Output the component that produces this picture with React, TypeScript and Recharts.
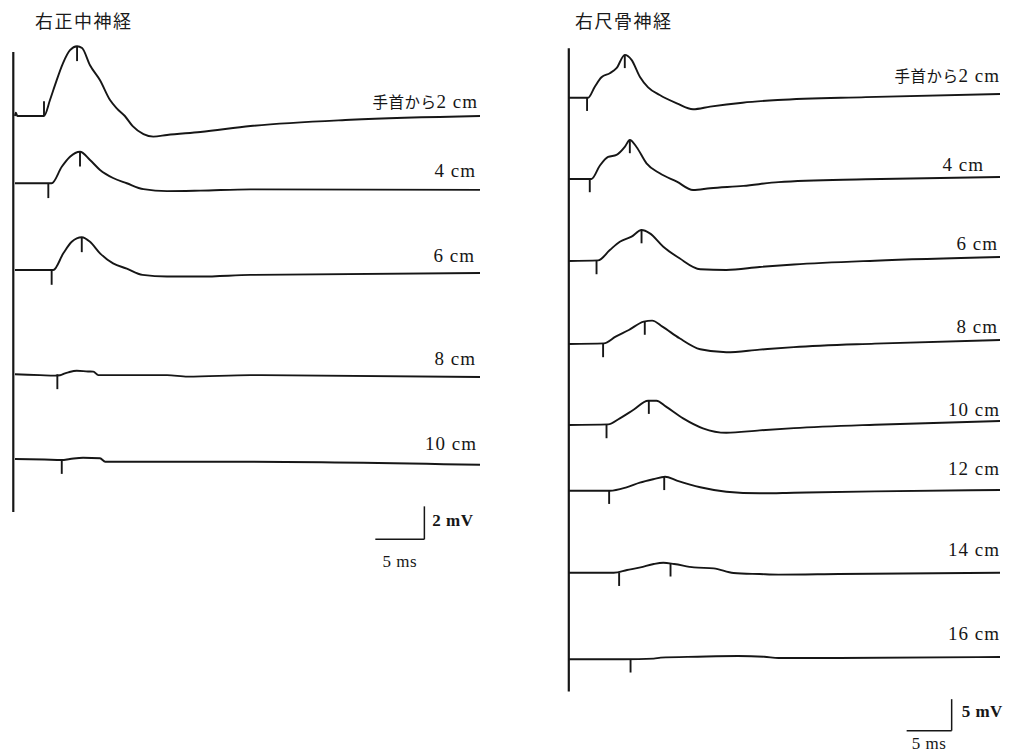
import React from 'react';
import { LineChart, Line, XAxis, YAxis, ReferenceLine, ReferenceDot } from 'recharts';

type Pt = [number, number]; // [ms, mV]

// 右正中神経 — traces recorded at 2..10 cm from the wrist
const med2: Pt[] = [
  [0, 0], [0.08, 0.2], [0.25, 0], [2.96, 0], [3.57, 0.97], [4.08, 1.87], [4.9, 3.21], [5.61, 3.99],
  [6.33, 4.23], [6.84, 4.12], [7.65, 3.08], [8.67, 2.17], [9.69, 0.97], [10.4, 0.45], [11.2, 0.0],
  [12.0, -0.62], [13.1, -1.1], [14.1, -1.25], [15.5, -1.15], [18.9, -0.97], [24.0, -0.61],
  [34.2, -0.23], [47.4, 0],
];
const med4: Pt[] = [
  [0, 0], [3.74, 0], [4.77, 1.0], [5.61, 1.61], [6.63, 1.91], [7.65, 1.41], [8.67, 0.81], [10.0, 0.32],
  [11.4, 0.0], [13.1, -0.36], [15.5, -0.48], [18.9, -0.45], [24.0, -0.37], [47.4, -0.4],
];
const med6: Pt[] = [
  [0, 0], [3.91, 0], [4.93, 1.01], [5.79, 1.71], [6.81, 1.98], [7.65, 1.71], [8.67, 1.01], [10.0, 0.4],
  [11.4, 0.08], [13.0, -0.3], [15.5, -0.4], [18.9, -0.4], [24.0, -0.3], [47.4, -0.18],
];
const med8: Pt[] = [
  [0, 0], [2.55, -0.05], [4.08, -0.08], [4.6, -0.06], [5.1, 0.06], [5.44, 0.12], [6.3, 0.22],
  [7.45, 0.17], [7.99, 0.16], [8.5, -0.05], [15.5, -0.05], [17.6, -0.14], [24.0, -0.05], [47.4, -0.16],
];
const med10: Pt[] = [
  [0, 0], [3.0, -0.03], [4.76, -0.06], [5.6, 0], [6.94, 0.08], [8.67, 0.05], [9.2, -0.16],
  [24.0, -0.16], [47.4, -0.35],
];
const medLabels = ['手首から2 cm', '4 cm', '6 cm', '8 cm', '10 cm'];
const medOnset = [2.96, 3.4, 3.74, 4.32, 4.77];
const medPeakT: (number | null)[] = [6.33, 6.63, 6.81, null, null];
const medPeakV: (number | null)[] = [4.23, 1.91, 1.98, null, null];

// 右尺骨神経 — traces recorded at 2..16 cm from the wrist
const uln2: Pt[] = [
  [0, 0], [2.14, 0], [2.89, 1.75], [3.63, 3.24], [4.56, 3.89], [5.3, 4.68], [6.22, 6.8], [6.97, 6.0],
  [7.89, 3.33], [8.81, 1.65], [10.1, 0.43], [12.0, -0.89], [13.8, -1.84], [15.7, -1.42], [19.3, -0.79],
  [23.2, -0.36], [33.0, 0.1], [47.9, 0.58],
];
const uln4: Pt[] = [
  [0, 0], [2.52, 0], [3.44, 2.1], [4.37, 3.5], [5.3, 3.81], [6.22, 5.08], [6.78, 6.19], [7.52, 5.08],
  [8.63, 2.49], [10.1, 0.9], [12.0, -0.43], [13.8, -1.75], [15.7, -1.47], [19.4, -1.1], [23.3, -0.5],
  [33.0, -0.05], [47.9, 0.32],
];
const uln6: Pt[] = [
  [0, 0], [3.26, 0.1], [4.56, 1.75], [5.67, 3.06], [6.97, 3.86], [8.08, 4.91], [9.0, 4.39], [10.5, 2.27],
  [12.3, 0.43], [14.6, -1.31], [17.5, -1.42], [21.2, -0.95], [25.0, -0.55], [34.0, 0.05], [47.9, 0.63],
];
const uln8: Pt[] = [
  [0, 0], [3.9, 0.1], [5.2, 1.16], [6.67, 2.22], [8.33, 3.54], [9.26, 3.7], [10.4, 2.75], [12.3, 0.9],
  [14.6, -0.84], [17.5, -1.31], [21.2, -0.9], [25.0, -0.5], [34.0, 0.05], [47.9, 0.63],
];
const uln10: Pt[] = [
  [0, 0], [4.37, 0.1], [5.67, 1.06], [7.15, 2.38], [8.81, 3.86], [9.74, 3.86], [10.8, 2.91], [12.7, 1.06],
  [14.9, -0.52], [17.5, -1.23], [21.2, -0.85], [25.0, -0.5], [34.0, 0.05], [47.9, 0.63],
];
const uln12: Pt[] = [
  [0, 0], [4.56, 0], [6.41, 0.54], [7.89, 1.28], [9.37, 1.82], [10.7, 2.22], [12.0, 1.6], [14.6, 0.54],
  [17.5, -0.16], [21.2, -0.41], [25.0, -0.32], [34.0, -0.1], [47.9, 0.12],
];
const uln14: Pt[] = [
  [0, 0], [5.0, 0], [6.48, 0.43], [7.96, 0.85], [9.44, 1.39], [10.5, 1.58], [11.7, 1.39], [13.9, 0.85],
  [16.1, 0.69], [18.3, -0.05], [21.2, -0.21], [23.3, -0.3], [30.0, -0.2], [47.9, 0],
];
const uln16: Pt[] = [
  [0, 0], [6.1, 0], [9.44, 0.1], [10.2, 0.26], [14.3, 0.41], [18.8, 0.52], [21.7, 0.41], [23.3, 0.2],
  [30.0, 0.2], [47.9, 0.37],
];
const ulnLabels = ['手首から2 cm', '4 cm', '6 cm', '8 cm', '10 cm', '12 cm', '14 cm', '16 cm'];
const ulnOnset = [2.03, 2.33, 3.08, 3.81, 4.19, 4.48, 5.59, 6.86];
const ulnPeakT: (number | null)[] = [6.22, 6.78, 8.08, 8.44, 8.89, 10.6, 11.3, null];
const ulnPeakV: (number | null)[] = [6.8, 6.19, 4.91, 3.56, 3.86, 2.2, 1.5, null];

// layout: where each trace's baseline sits (in mV below the top of the plot)
const MED_BASE = [-4.61, -8.69, -13.95, -20.28, -25.42];
const ULN_BASE = [-9.16, -22.06, -35.08, -48.25, -61.11, -71.54, -84.56, -98.3];

const INK = '#161616';
const SERIF = "'Liberation Serif', 'Times New Roman', serif";
const CJK = "'Noto Sans CJK JP', 'Noto Sans', sans-serif";

const traceLabel = (text: string, lift: number, dx: number) => (p: any) => {
  const m = /^([^\x00-\x7f]*)(.*)$/.exec(text) as RegExpExecArray;
  return (
    <text
      x={p.cx + dx}
      y={p.cy - lift}
      textAnchor="end"
      dominantBaseline="central"
      fill={INK}
      fontFamily={SERIF}
      fontSize={19}
      letterSpacing={1}
    >
      {m[1] ? (
        <tspan fontFamily={CJK} fontSize={15.5} letterSpacing={0.5}>
          {m[1]}
        </tspan>
      ) : null}
      <tspan>{m[2]}</tspan>
    </text>
  );
};

const barText = (text: string, dx: number, dy: number, anchor: string, bold: boolean) => (p: any) => (
  <text
    x={p.cx + dx}
    y={p.cy + dy}
    textAnchor={anchor}
    dominantBaseline="central"
    fill={INK}
    fontFamily={SERIF}
    fontSize={17}
    fontWeight={bold ? 700 : 400}
    letterSpacing={0.5}
  >
    {text}
  </text>
);

type PanelProps = {
  traces: Pt[][];
  labels: string[];
  onset: number[];
  onsetDir: number[];
  peakT: (number | null)[];
  peakV: (number | null)[];
  base: number[];
  lift: number[];
  labelDx: number[];
  tickLen: number;
  width: number;
  height: number;
  margin: { top: number; right: number; bottom: number; left: number };
  xDomain: [number, number];
  yDomain: [number, number];
  axis: { t: number; y1: number; y2: number };
  bar: { t: number; y: number; ms: number; mv: number; mvText: string; mvDx: number; mvDy: number; msDy: number };
};

function NervePanel(props: PanelProps) {
  const { traces, base, bar, axis, tickLen } = props;
  const tEnd = props.xDomain[1];
  return (
    <LineChart width={props.width} height={props.height} margin={props.margin}>
      <XAxis type="number" dataKey="t" domain={props.xDomain} hide allowDataOverflow />
      <YAxis type="number" domain={props.yDomain} hide allowDataOverflow />

      <ReferenceLine
        segment={[{ x: axis.t, y: axis.y1 }, { x: axis.t, y: axis.y2 }]}
        stroke={INK}
        strokeWidth={2.2}
      />

      {traces.map((tr, i) => (
        <Line
          key={'tr' + i}
          data={tr.map(([t, v]) => ({ t, v: v + base[i] }))}
          dataKey="v"
          type="monotone"
          stroke={INK}
          strokeWidth={1.9}
          dot={false}
          activeDot={false}
          isAnimationActive={false}
        />
      ))}

      {props.onset.map((t, i) => (
        <ReferenceLine
          key={'on' + i}
          segment={[{ x: t, y: base[i] }, { x: t, y: base[i] + props.onsetDir[i] * tickLen }]}
          stroke={INK}
          strokeWidth={1.9}
        />
      ))}
      {props.peakT.map((t, i) =>
        t == null ? null : (
          <ReferenceLine
            key={'pk' + i}
            segment={[
              { x: t, y: base[i] + (props.peakV[i] as number) },
              { x: t, y: base[i] + (props.peakV[i] as number) - tickLen },
            ]}
            stroke={INK}
            strokeWidth={1.9}
          />
        )
      )}

      {props.labels.map((lab, i) => {
        const tr = traces[i];
        return (
          <ReferenceDot
            key={'lb' + i}
            x={tEnd}
            y={base[i] + tr[tr.length - 1][1]}
            r={0}
            shape={traceLabel(lab, props.lift[i], props.labelDx[i])}
          />
        );
      })}

      {/* calibration bar */}
      <ReferenceLine
        segment={[{ x: bar.t, y: bar.y }, { x: bar.t, y: bar.y + bar.mv }]}
        stroke={INK}
        strokeWidth={1.5}
      />
      <ReferenceLine
        segment={[{ x: bar.t - bar.ms, y: bar.y }, { x: bar.t, y: bar.y }]}
        stroke={INK}
        strokeWidth={1.5}
      />
      <ReferenceDot
        x={bar.t}
        y={bar.y + bar.mv / 2}
        r={0}
        shape={barText(bar.mvText, bar.mvDx, bar.mvDy, 'start', true)}
      />
      <ReferenceDot
        x={bar.t - bar.ms / 2}
        y={bar.y}
        r={0}
        shape={barText(bar.ms + ' ms', 0, bar.msDy, 'middle', false)}
      />
    </LineChart>
  );
}

const titleStyle = (left: number): React.CSSProperties => ({
  position: 'absolute',
  left,
  top: 10,
  fontFamily: CJK,
  fontSize: 18,
  lineHeight: '20px',
  letterSpacing: 1.5,
  color: '#1a1a1a',
  whiteSpace: 'nowrap',
});

export default function App() {
  return (
    <div
      style={{
        position: 'absolute',
        left: 0,
        top: 0,
        width: 1010,
        height: 755,
        background: '#fff',
        overflow: 'hidden',
      }}
    >
      <div style={titleStyle(35)}>右正中神経</div>
      <div style={titleStyle(575)}>右尺骨神経</div>

      <div style={{ position: 'absolute', left: 0, top: 0 }}>
        <NervePanel
          traces={[med2, med4, med6, med8, med10]}
          labels={medLabels}
          onset={medOnset}
          onsetDir={[1, -1, -1, -1, -1]}
          peakT={medPeakT}
          peakV={medPeakV}
          base={MED_BASE}
          lift={[15, 20, 18, 19, 22]}
          labelDx={[-2, -4, -5, -4, -3]}
          tickLen={0.9}
          width={500}
          height={600}
          margin={{ top: 40, right: 20, bottom: 16, left: 13 }}
          xDomain={[-0.2, 47.4]}
          yDomain={[-33, 0]}
          axis={{ t: -0.17, y1: -0.73, y2: -28.63 }}
          bar={{ t: 41.73, y: -30.29, ms: 5, mv: 2, mvText: '2 mV', mvDx: 8, mvDy: -2, msDy: 22 }}
        />
      </div>

      <div style={{ position: 'absolute', left: 560, top: 0 }}>
        <NervePanel
          traces={[uln2, uln4, uln6, uln8, uln10, uln12, uln14, uln16]}
          labels={ulnLabels}
          onset={ulnOnset}
          onsetDir={[-1, -1, -1, -1, -1, -1, -1, -1]}
          peakT={ulnPeakT}
          peakV={ulnPeakV}
          base={ULN_BASE}
          lift={[19, 13, 14, 14, 12, 22, 24, 24]}
          labelDx={[0, -16, -2, -2, 0, 0, 0, 0]}
          tickLen={2.1}
          width={450}
          height={755}
          margin={{ top: 40, right: 10, bottom: 3.1, left: 7 }}
          xDomain={[-0.2, 47.9]}
          yDomain={[-113, 0]}
          axis={{ t: 0, y1: -1.32, y2: -103.4 }}
          bar={{ t: 42.53, y: -109.63, ms: 5, mv: 5, mvText: '5 mV', mvDx: 10, mvDy: -3, msDy: 13 }}
        />
      </div>
    </div>
  );
}
